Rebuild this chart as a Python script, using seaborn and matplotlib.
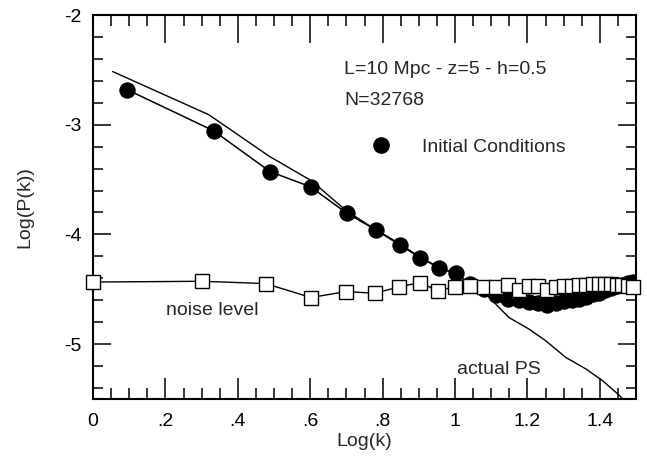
import numpy as np
import pandas as pd
import matplotlib
matplotlib.use("Agg")
import matplotlib.pyplot as plt
import seaborn as sns
from matplotlib.ticker import MultipleLocator, FuncFormatter
from matplotlib.lines import Line2D

# ---- data ----
ic_logk = [0.094, 0.333, 0.489, 0.601, 0.702, 0.783, 0.848, 0.904, 0.955, 1.003,
           1.041, 1.079, 1.114, 1.146, 1.176, 1.204, 1.230, 1.255, 1.279, 1.301,
           1.322, 1.342, 1.362, 1.380, 1.398, 1.415, 1.431, 1.447, 1.462, 1.477,
           1.491, 1.505]
ic_logp = [-2.68, -3.055, -3.427, -3.566, -3.809, -3.961, -4.097, -4.212, -4.303, -4.355,
           -4.45, -4.50, -4.555, -4.586, -4.60, -4.618, -4.623, -4.64, -4.623, -4.61,
           -4.595, -4.586, -4.568, -4.545, -4.532, -4.509, -4.49, -4.473, -4.459, -4.445,
           -4.436, -4.432]

noise_logk = [0.0, 0.301, 0.477, 0.602, 0.699, 0.778, 0.845, 0.903, 0.954, 1.0,
              1.041, 1.079, 1.114, 1.146, 1.176, 1.204, 1.230, 1.255, 1.279, 1.301,
              1.322, 1.342, 1.362, 1.380, 1.398, 1.415, 1.431, 1.447, 1.462, 1.477,
              1.491]
noise_logp = [-4.434, -4.427, -4.448, -4.575, -4.521, -4.536, -4.479, -4.439, -4.515, -4.475,
              -4.473, -4.48, -4.482, -4.457, -4.506, -4.466, -4.466, -4.506, -4.475, -4.466,
              -4.466, -4.464, -4.457, -4.455, -4.455, -4.455, -4.455, -4.46, -4.464, -4.47,
              -4.48]

ps_logk = [0.054, 0.32, 0.487, 0.603, 0.70, 0.78, 0.85, 0.90, 0.95, 1.0,
           1.04, 1.09, 1.149, 1.205, 1.251, 1.306, 1.362, 1.408, 1.45, 1.48]
ps_logp = [-2.515, -2.909, -3.288, -3.51, -3.785, -3.955, -4.09, -4.2, -4.29, -4.36,
           -4.44, -4.56, -4.757, -4.864, -4.97, -5.121, -5.227, -5.334, -5.455, -5.55]

title_lines = ["L=10 Mpc - z=5 - h=0.5", "N=32768"]
legend_label = "Initial Conditions"
noise_label = "noise level"
ps_label = "actual PS"

# ---- style ----
sns.set_style("ticks")
plt.rcParams["font.family"] = ["Liberation Sans", "DejaVu Sans"]
plt.rcParams["font.size"] = 14

fig = plt.figure(figsize=(6.47, 4.58), dpi=100)
ax = fig.add_axes([93 / 647, 1 - 399 / 458, (636 - 93) / 647, (399 - 15) / 458])

df_ps = pd.DataFrame({"logk": ps_logk, "logp": ps_logp})
df_ic = pd.DataFrame({"logk": ic_logk, "logp": ic_logp})
df_no = pd.DataFrame({"logk": noise_logk, "logp": noise_logp})

sns.lineplot(data=df_ps, x="logk", y="logp", sort=False, estimator=None,
             color="black", lw=1.0, ax=ax, zorder=2)
sns.lineplot(data=df_ic, x="logk", y="logp", sort=False, estimator=None,
             color="black", lw=1.1, marker="o", markersize=11,
             markerfacecolor="black", markeredgecolor="black", ax=ax, zorder=3)
sns.lineplot(data=df_no, x="logk", y="logp", sort=False, estimator=None,
             color="black", lw=1.0, marker="s", markersize=9.5,
             markerfacecolor="white", markeredgecolor="black", markeredgewidth=1.0,
             ax=ax, zorder=4, clip_on=False)

ax.set_xlim(0, 1.5)
ax.set_ylim(-5.5, -2)

ax.xaxis.set_major_locator(MultipleLocator(0.2))
ax.xaxis.set_minor_locator(MultipleLocator(0.05))
ax.yaxis.set_major_locator(MultipleLocator(1))
ax.yaxis.set_minor_locator(MultipleLocator(0.2))


def xfmt(v, pos):
    if abs(v) < 1e-9:
        return "0"
    if abs(v - round(v)) < 1e-9:
        return str(int(round(v)))
    s = f"{v:.1f}"
    if s.startswith("0"):
        s = s[1:]
    return s


ax.xaxis.set_major_formatter(FuncFormatter(xfmt))
ax.yaxis.set_major_formatter(FuncFormatter(lambda v, p: f"{int(round(v))}"))

ax.tick_params(which="both", direction="in", top=True, right=True,
               width=1.1, colors="black", labelsize=14)
ax.tick_params(axis="x", which="major", length=15, pad=10)
ax.tick_params(axis="x", which="minor", length=8)
ax.tick_params(axis="y", which="major", length=13, pad=8)
ax.tick_params(axis="y", which="minor", length=7)
for t in ax.xaxis.get_major_ticks():
    t.tick2line.set_markersize(20)

for s in ax.spines.values():
    s.set_linewidth(1.5)
    s.set_color("black")

ax.set_xlabel("Log(k)", labelpad=2)
ax.set_ylabel("Log(P(k))", labelpad=22)

ax.text(0.694, -2.5, title_lines[0], ha="left", va="center", fontsize=14)
ax.text(0.694, -2.782, title_lines[1], ha="left", va="center", fontsize=14)
ax.text(0.203, -4.697, noise_label, ha="left", va="center", fontsize=14)
ax.text(1.006, -5.227, ps_label, ha="left", va="center", fontsize=14)

handle = Line2D([], [], ls="none", marker="o", markersize=11, color="black")
ax.legend([handle], [legend_label], loc="center left",
          bbox_to_anchor=(371 / 647, 1 - 147 / 458), bbox_transform=fig.transFigure,
          frameon=False, borderpad=0, borderaxespad=0, handlelength=1.0,
          handletextpad=1.6, fontsize=14)

fig.savefig("out.png", dpi=100)
